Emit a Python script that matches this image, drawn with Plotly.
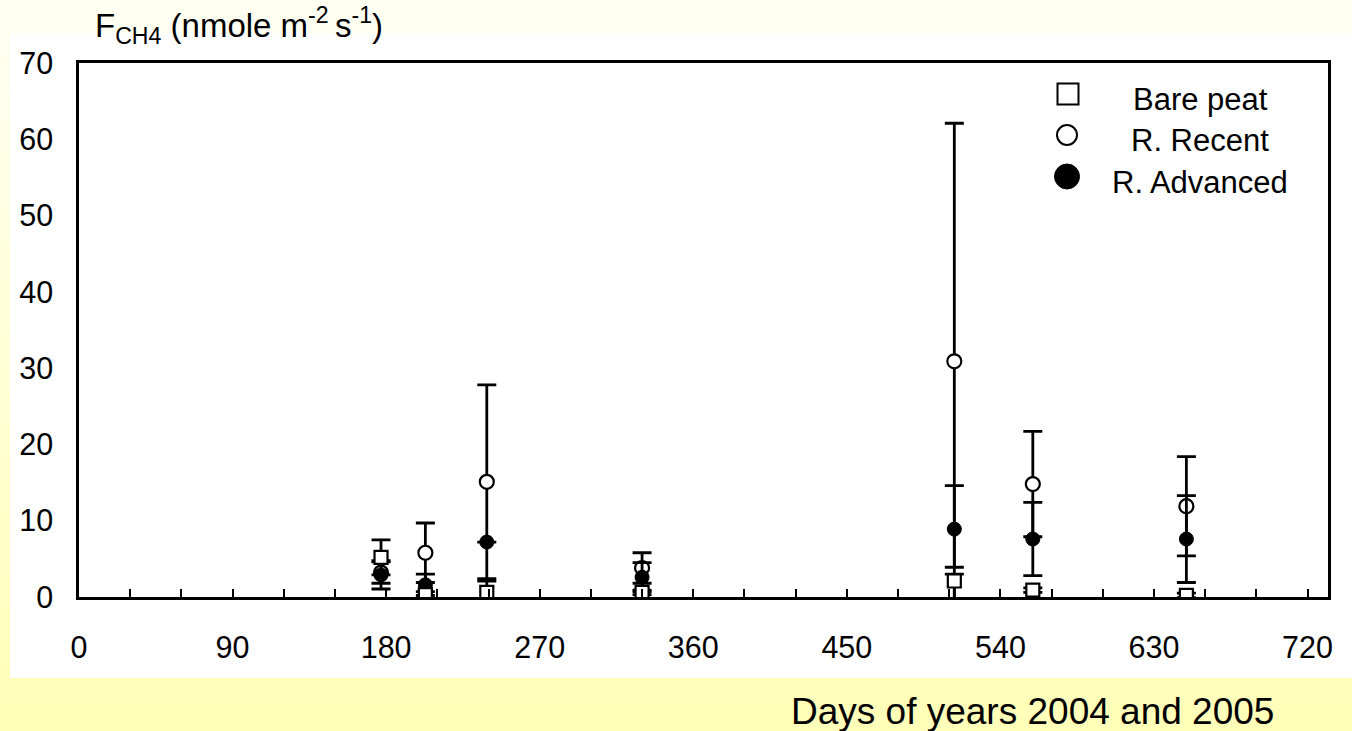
import plotly.graph_objects as go

# ---- data ----
days = [177, 203, 239, 330, 513, 559, 649]

bare_peat = [5.2, 0.3, 0.6, 0.6, 2.1, 0.9, 0.2]
bare_plus = [2.3, 0.4, 1.5, 0.3, 0.9, 0.3, 0.3]
bare_minus = [2.3, 0.4, 1.4, 0.3, 2.9, 0.3, 0.3]

r_recent = [3.2, 5.8, 15.1, 3.8, 30.9, 14.8, 11.9]
r_recent_err = [1.4, 3.9, 12.7, 2.0, 31.2, 6.9, 6.5]

r_advanced = [2.9, 1.6, 7.2, 2.6, 8.9, 7.6, 7.6]
r_adv_plus = [1.85, 1.4, 0.0, 1.9, 5.7, 4.8, 5.7]
r_adv_minus = [1.85, 1.4, 0.0, 1.9, 5.0, 4.8, 5.7]

x_ticks = [0, 90, 180, 270, 360, 450, 540, 630, 720]
y_ticks = [0, 10, 20, 30, 40, 50, 60, 70]

series_names = ["Bare peat", "R. Recent", "R. Advanced"]

FONT = "Liberation Sans, Arial, sans-serif"
W, H = 1352, 731
L, R, T, B = 79, 24, 63, 134
PW, PH = W - L - R, H - T - B


def px_x(p):
    return (p - L) / PW


def px_y(p):
    return (H - B - p) / PH


fig = go.Figure()

err_style = dict(type="data", symmetric=False, color="black", thickness=2.8, width=9.5)

fig.add_trace(go.Scatter(
    x=days, y=r_recent, mode="markers", name=series_names[1], showlegend=False,
    marker=dict(symbol="circle", size=14, color="white", line=dict(color="black", width=2.2)),
    error_y=dict(err_style, array=r_recent_err, arrayminus=r_recent_err),
))
fig.add_trace(go.Scatter(
    x=days, y=r_advanced, mode="markers", name=series_names[2], showlegend=False,
    marker=dict(symbol="circle", size=14, color="black", line=dict(color="black", width=1)),
    error_y=dict(err_style, array=r_adv_plus, arrayminus=r_adv_minus),
))
fig.add_trace(go.Scatter(
    x=days, y=bare_peat, mode="markers", name=series_names[0], showlegend=False,
    marker=dict(symbol="square", size=13, color="white", line=dict(color="black", width=2.2)),
    error_y=dict(err_style, array=bare_plus, arrayminus=bare_minus),
))

# ---- background: vertical gradient page + white panel ----
shapes = []
n = 24
c0 = (255, 255, 242)
c1 = (255, 255, 185)
for i in range(n):
    t = i / (n - 1)
    col = tuple(round(c0[k] + (c1[k] - c0[k]) * t) for k in range(3))
    y_top = H * i / n
    y_bot = H * (i + 1) / n + 1
    shapes.append(dict(type="rect", xref="paper", yref="paper", layer="below",
                       x0=px_x(-2), x1=px_x(W + 2), y0=px_y(y_bot), y1=px_y(y_top - 1),
                       fillcolor="rgb(%d,%d,%d)" % col, line=dict(width=0)))
shapes.append(dict(type="rect", xref="paper", yref="paper", layer="below",
                   x0=px_x(10), x1=px_x(W + 2), y0=px_y(678), y1=px_y(33),
                   fillcolor="white", line=dict(width=0)))

# ---- custom legend ----
leg_sym_x = 1068
leg_rows = [94, 135, 176.5]
leg_text_x = 1200
leg_text_y = [99, 140, 182]
s = 10.5
shapes.append(dict(type="rect", xref="paper", yref="paper",
                   x0=px_x(leg_sym_x - s), x1=px_x(leg_sym_x + s),
                   y0=px_y(leg_rows[0] + s), y1=px_y(leg_rows[0] - s),
                   fillcolor="white", line=dict(color="black", width=2)))
r1 = 10
shapes.append(dict(type="circle", xref="paper", yref="paper",
                   x0=px_x(leg_sym_x - 1 - r1), x1=px_x(leg_sym_x - 1 + r1),
                   y0=px_y(leg_rows[1] + r1), y1=px_y(leg_rows[1] - r1),
                   fillcolor="white", line=dict(color="black", width=2)))
r2 = 12.5
shapes.append(dict(type="circle", xref="paper", yref="paper",
                   x0=px_x(leg_sym_x - 1 - r2), x1=px_x(leg_sym_x - 1 + r2),
                   y0=px_y(leg_rows[2] + r2), y1=px_y(leg_rows[2] - r2),
                   fillcolor="black", line=dict(color="black", width=1)))

annotations = []
for name, ty in zip(series_names, leg_text_y):
    annotations.append(dict(text=name, xref="paper", yref="paper", x=px_x(leg_text_x), y=px_y(ty),
                            xanchor="center", yanchor="middle", showarrow=False,
                            font=dict(family=FONT, size=31, color="black")))

annotations.append(dict(
    text="F<sub>CH4</sub> (nmole m<sup>-2 </sup>s<sup>-1</sup>)",
    xref="paper", yref="paper", x=px_x(93), y=px_y(25), xanchor="left", yanchor="middle",
    showarrow=False, font=dict(family=FONT, size=33, color="black")))
annotations.append(dict(
    text="Days of years 2004 and 2005",
    xref="paper", yref="paper", x=px_x(1032), y=px_y(711), xanchor="center", yanchor="middle",
    showarrow=False, font=dict(family=FONT, size=37, color="black")))

fig.update_layout(
    width=W, height=H,
    margin=dict(l=L, r=R, t=T, b=B, pad=0),
    paper_bgcolor="rgb(255,255,200)",
    plot_bgcolor="white",
    showlegend=False,
    hovermode=False,
    shapes=shapes,
    annotations=annotations,
)

fig.update_xaxes(
    range=[0, 732], tickmode="array", tickvals=x_ticks, ticktext=[str(v) for v in x_ticks],
    ticks="inside", ticklen=8, tickwidth=2, tickcolor="black",
    minor=dict(dtick=30, tick0=0, ticks="inside", ticklen=8, tickwidth=2, tickcolor="black", showgrid=False),
    showline=True, linewidth=2.5, linecolor="black", mirror=True,
    showgrid=False, zeroline=False, ticklabelstandoff=22,
    tickfont=dict(family=FONT, size=30.5, color="black"),
)
fig.update_yaxes(
    range=[0, 70], tickmode="array", tickvals=y_ticks, ticktext=[str(v) for v in y_ticks],
    ticks="", showline=True, linewidth=2.5, linecolor="black", mirror=True,
    showgrid=False, zeroline=False, ticklabelstandoff=17,
    tickfont=dict(family=FONT, size=30.5, color="black"),
)

fig.write_html(
    "out.html",
    config={"displayModeBar": False},
    post_script="document.body.style.margin='0';document.body.style.overflow='hidden';",
)
